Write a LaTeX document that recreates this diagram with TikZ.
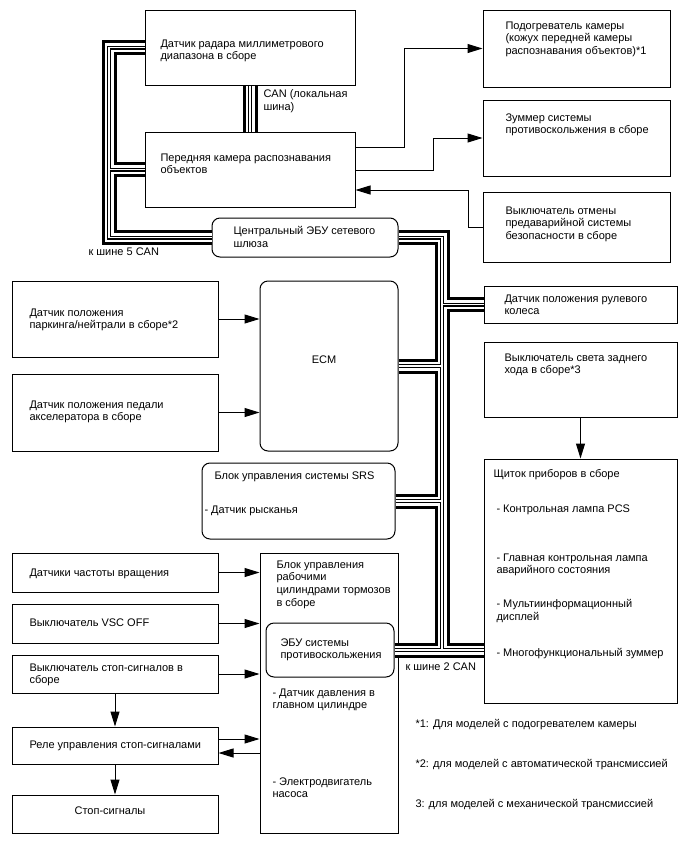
\documentclass[tikz,border=0pt]{standalone}
\usepackage{fontspec}
\setmainfont{Liberation Sans}
\usepackage{tikz}
\usetikzlibrary{arrows.meta}
\newcommand\dfont{\fontsize{11}{12.8}\selectfont}

\begin{document}
\begin{tikzpicture}[x=1pt, y=-1pt, >={Triangle[length=15pt, width=9pt]}, line width=1pt,
  box/.style={draw, inner sep=0pt},
  rbox/.style={draw, rounded corners=8pt, inner sep=0pt},
  txt/.style={anchor=north west, align=left, inner sep=0pt, font=\dfont},
  lbl/.style={anchor=west, inner sep=0pt, font=\dfont}]
\useasboundingbox (0,0) rectangle (688,852);
% boxes
\node[box, minimum width=210pt, minimum height=75pt] (radar) at (250,47.5) {};
\node[box, minimum width=210pt, minimum height=75pt] (camera) at (250,169.5) {};
\node[rbox, minimum width=186pt, minimum height=39pt] (gateway) at (305,237.5) {};
\node[box, minimum width=187pt, minimum height=77pt] (heater) at (576.5,48.5) {};
\node[box, minimum width=187pt, minimum height=76pt] (buzzer) at (576.5,138) {};
\node[box, minimum width=187pt, minimum height=70pt] (cancel) at (576.5,227) {};
\node[box, minimum width=206pt, minimum height=76pt] (pn) at (115,319) {};
\node[box, minimum width=206pt, minimum height=77pt] (accel) at (115,412.5) {};
\node[rbox, minimum width=138pt, minimum height=170pt] (ecm) at (329,366) {};
\node[box, minimum width=193pt, minimum height=37pt] (steering) at (580.5,304.5) {};
\node[box, minimum width=193pt, minimum height=75pt] (reverse) at (580.5,379.5) {};
\node[box, minimum width=193pt, minimum height=244pt] (cluster) at (580.5,581) {};
\node[rbox, minimum width=193pt, minimum height=76pt] (srs) at (298.5,501) {};
\node[box, minimum width=206pt, minimum height=39pt] (wheel) at (115,572.5) {};
\node[box, minimum width=206pt, minimum height=39pt] (vsc) at (115,623.5) {};
\node[box, minimum width=206pt, minimum height=38pt] (stopsw) at (115,674) {};
\node[box, minimum width=206pt, minimum height=37pt] (relay) at (115,745.5) {};
\node[box, minimum width=206pt, minimum height=38pt] (stoplights) at (115,814) {};
\node[box, minimum width=138pt, minimum height=280pt] (actuator) at (329,693) {};
\node[rbox, minimum width=128pt, minimum height=54pt] (ebu) at (330,650) {};
% signal lines
\coordinate (h1) at (404,147);
\coordinate (h2) at (433,170);
\coordinate (h3) at (468,190);
\draw[->] (camera.east |- h1) -- (h1) |- (heater.west);
\draw[->] (camera.east |- h2) -- (h2) |- (buzzer.west);
\draw[->] (cancel.west) -| (h3) -- (camera.east |- h3);
\draw[->] (pn.east) -- (pn.east -| ecm.west);
\draw[->] (accel.east) -- (accel.east -| ecm.west);
\draw[->] (reverse.south) -- (cluster.north);
\draw[->] (wheel.east) -- (wheel.east -| actuator.west);
\draw[->] (vsc.east) -- (vsc.east -| actuator.west);
\draw[->] (stopsw.east) -- (stopsw.east -| actuator.west);
\draw[->] (stopsw.south) -- (relay.north);
\draw[->] ([yshift=6.5pt]relay.east) -- ([yshift=6.5pt]relay.east -| actuator.west);
\draw[->] ([yshift=-7.5pt]relay.east -| actuator.west) -- ([yshift=-7.5pt]relay.east);
\draw[->] (relay.south) -- (stoplights.north);
% CAN buses
\coordinate (bus5) at (109,237.5);
\coordinate (bus2) at (442,650);
\foreach \w/\c in {15/black, 9/white, 4/black, 1.6/white}
  \draw[line width=\w pt, \c] (radar.west) -| (bus5) -- (gateway.west)
    (camera.west) -- (camera.west -| bus5)
    (radar.south) -- (camera.north)
    (gateway.east) -| (bus2)
    (steering.west) -- (steering.west -| bus2)
    (ecm.east) -- (ecm.east -| bus2)
    (srs.east) -- (srs.east -| bus2)
    (ebu.east) -- (ebu.east -| cluster.west);
% texts
\node[txt] (radar-t) at (160,39) {Датчик радара миллиметрового\\диапазона в сборе};
\node[txt] (camera-t) at (160,153) {Передняя камера распознавания\\объектов};
\node[txt] (can-t) at (263,89) {CAN (локальная\\шина)};
\node[txt] (gateway-t) at (233,226) {Центральный ЭБУ сетевого\\шлюза};
\node[lbl] (bus5-t) at (88,252) {к шине 5 CAN};
\node[txt] (heater-t) at (505,21) {Подогреватель камеры\\(кожух передней камеры\\распознавания объектов)*1};
\node[txt] (buzzer-t) at (505,113) {Зуммер системы\\противоскольжения в сборе};
\node[txt] (cancel-t) at (505,206) {Выключатель отмены\\предаварийной системы\\безопасности в сборе};
\node[txt] (pn-t) at (29,308) {Датчик положения\\паркинга/нейтрали в сборе*2};
\node[txt] (accel-t) at (29,400) {Датчик положения педали\\акселератора в сборе};
\node[font=\dfont] (ecm-t) at (324,360) {ECM};
\node[txt] (srs-t) at (214,471) {Блок управления системы SRS};
\node[txt] (yaw-t) at (204,505) {- Датчик рысканья};
\node[txt] (steering-t) at (504,294) {Датчик положения рулевого\\колеса};
\node[txt] (reverse-t) at (504,353) {Выключатель света заднего\\хода в сборе*3};
\node[txt] (cluster-t) at (493,469) {Щиток приборов в сборе};
\node[txt] (pcs-t) at (496,504) {- Контрольная лампа PCS};
\node[txt] (master-t) at (496,553) {- Главная контрольная лампа\\аварийного состояния};
\node[txt] (mid-t) at (496,599) {- Мультиинформационный\\дисплей};
\node[txt] (mbuzz-t) at (496,648) {- Многофункциональный зуммер};
\node[txt] (wheel-t) at (29,568) {Датчики частоты вращения};
\node[txt] (vsc-t) at (29,618) {Выключатель VSC OFF};
\node[txt] (stopsw-t) at (29,663) {Выключатель стоп-сигналов в\\сборе};
\node[txt] (relay-t) at (29,740) {Реле управления стоп-сигналами};
\node[font=\dfont] (stoplights-t) at (110,811) {Стоп-сигналы};
\node[txt] (actuator-t) at (276,560) {Блок управления\\рабочими\\цилиндрами тормозов\\в сборе};
\node[txt] (ebu-t) at (280,638) {ЭБУ системы\\противоскольжения};
\node[txt] (pressure-t) at (272,688) {- Датчик давления в\\главном цилиндре};
\node[txt] (motor-t) at (272,777) {- Электродвигатель\\насоса};
\node[lbl] (bus2-t) at (405,667) {к шине 2 CAN};
\node[lbl] (note1) at (415,725) {*1: Для моделей с подогревателем камеры};
\node[lbl] (note2) at (415,765) {*2: для моделей с автоматической трансмиссией};
\node[lbl] (note3) at (415,805) {3: для моделей с механической трансмиссией};
\end{tikzpicture}
\end{document}
